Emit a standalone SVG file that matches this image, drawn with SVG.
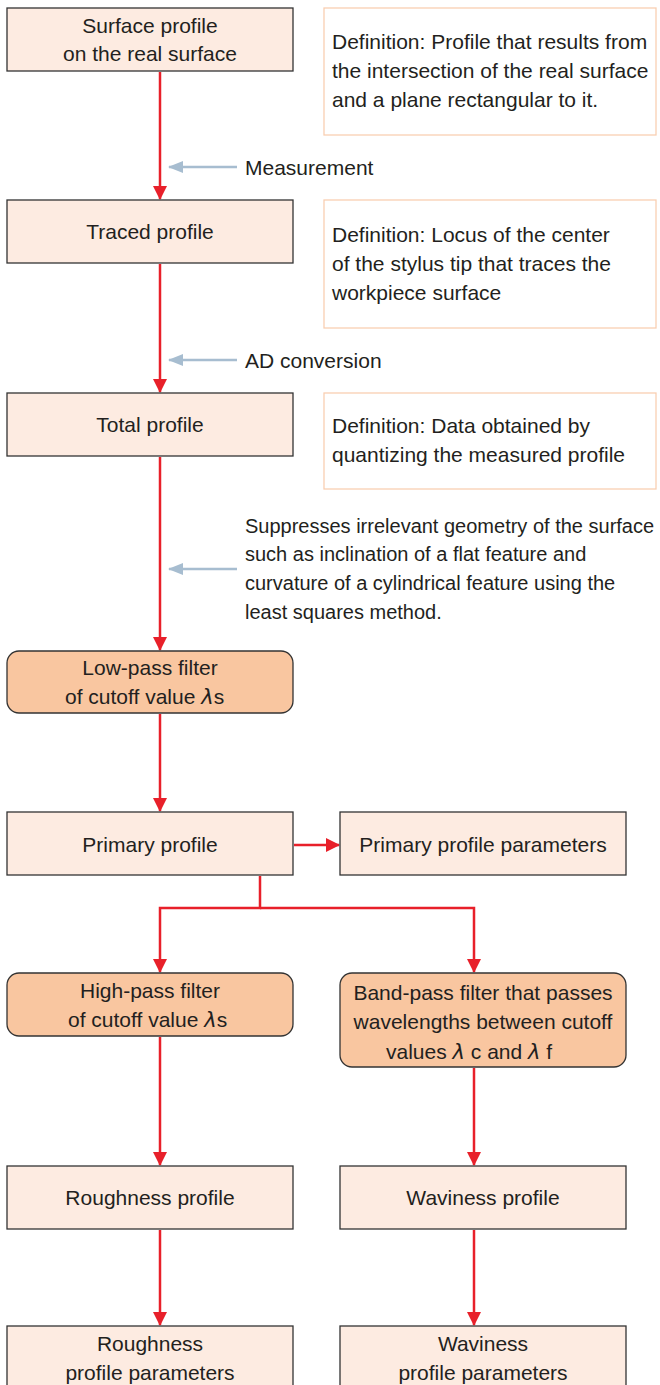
<svg xmlns="http://www.w3.org/2000/svg" width="660" height="1385" viewBox="0 0 660 1385">
<defs>
<style>
.box{fill:#fdebe1;stroke:#333;stroke-width:1.3}
.flt{fill:#f9c6a0;stroke:#333;stroke-width:1.3}
.def{fill:#fff;stroke:#f9cfb2;stroke-width:1.3}
text{font-family:"Liberation Sans",Arial,sans-serif;font-size:21px;fill:#231f20}
.c{text-anchor:middle}
.s{font-size:20px}
.red{fill:none;stroke:#e8202a;stroke-width:2.5}
.blue{fill:none;stroke:#a7bdd0;stroke-width:2.5}
.lam{font-family:"DejaVu Sans",sans-serif;font-style:italic}
</style>
<marker id="ar" markerWidth="14" markerHeight="16" refX="13" refY="8" orient="auto" markerUnits="userSpaceOnUse"><path d="M0,1 L14,8 L0,15 z" fill="#e8202a"/></marker>
<marker id="ab" markerWidth="16" markerHeight="14" refX="14" refY="7" orient="auto" markerUnits="userSpaceOnUse"><path d="M0,1 L15,7 L0,13 z" fill="#a7bdd0"/></marker>
</defs>
<g id="connectors">
<line class="red" x1="160" y1="72" x2="160" y2="199" marker-end="url(#ar)"/>
<line class="red" x1="160" y1="264" x2="160" y2="392" marker-end="url(#ar)"/>
<line class="red" x1="160" y1="457" x2="160" y2="650" marker-end="url(#ar)"/>
<line class="red" x1="160" y1="714" x2="160" y2="811" marker-end="url(#ar)"/>
<line class="red" x1="294" y1="845" x2="339" y2="845" marker-end="url(#ar)"/>
<polyline class="red" points="260,876 260,908 160,908 160,972" marker-end="url(#ar)"/>
<polyline class="red" points="260,908 474,908 474,972" marker-end="url(#ar)"/>
<line class="red" x1="160" y1="1037" x2="160" y2="1165" marker-end="url(#ar)"/>
<line class="red" x1="474" y1="1068" x2="474" y2="1165" marker-end="url(#ar)"/>
<line class="red" x1="160" y1="1230" x2="160" y2="1325" marker-end="url(#ar)"/>
<line class="red" x1="474" y1="1230" x2="474" y2="1325" marker-end="url(#ar)"/>
<line class="blue" x1="237" y1="167" x2="169" y2="167" marker-end="url(#ab)"/>
<line class="blue" x1="237" y1="360" x2="169" y2="360" marker-end="url(#ab)"/>
<line class="blue" x1="237" y1="569" x2="169" y2="569" marker-end="url(#ab)"/>
</g>
<g id="surface-profile"><rect class="box" x="7" y="8" width="286" height="63"/><text class="c" x="150" y="33">Surface profile</text><text class="c" x="150" y="61">on the real surface</text></g>
<g id="def1"><rect class="def" x="324" y="8" width="332" height="127"/><text x="332" y="49">Definition: Profile that results from</text><text x="332" y="78">the intersection of the real surface</text><text x="332" y="107">and a plane rectangular to it.</text></g>
<g id="measurement"><text x="245" y="175">Measurement</text></g>
<g id="traced-profile"><rect class="box" x="7" y="200" width="286" height="63"/><text class="c" x="150" y="239">Traced profile</text></g>
<g id="def2"><rect class="def" x="324" y="200" width="332" height="128"/><text x="332" y="242">Definition: Locus of the center</text><text x="332" y="271">of the stylus tip that traces the</text><text x="332" y="300">workpiece surface</text></g>
<g id="ad"><text x="245" y="368">AD conversion</text></g>
<g id="total-profile"><rect class="box" x="7" y="393" width="286" height="63"/><text class="c" x="150" y="432">Total profile</text></g>
<g id="def3"><rect class="def" x="324" y="393" width="332" height="96"/><text x="332" y="433">Definition: Data obtained by</text><text x="332" y="462">quantizing the measured profile</text></g>
<g id="suppress"><text class="s" x="245" y="533">Suppresses irrelevant geometry of the surface</text><text class="s" x="245" y="561">such as inclination of a flat feature and</text><text class="s" x="245" y="590">curvature of a cylindrical feature using the</text><text class="s" x="245" y="619">least squares method.</text></g>
<g id="low-pass"><rect class="flt" x="7" y="651" width="286" height="62" rx="12"/><text class="c" x="150" y="675">Low-pass filter</text><text x="65" y="704">of cutoff value  <tspan class="lam">λ</tspan>s</text></g>
<g id="primary-profile"><rect class="box" x="7" y="812" width="286" height="63"/><text class="c" x="150" y="852">Primary profile</text></g>
<g id="primary-params"><rect class="box" x="340" y="812" width="286" height="63"/><text class="c" x="483" y="852">Primary profile parameters</text></g>
<g id="high-pass"><rect class="flt" x="7" y="973" width="286" height="63" rx="12"/><text class="c" x="150" y="998">High-pass filter</text><text x="68" y="1027">of cutoff value <tspan class="lam">λ</tspan>s</text></g>
<g id="band-pass"><rect class="flt" x="340" y="973" width="286" height="94" rx="12"/><text class="c" x="483" y="1000">Band-pass filter that passes</text><text class="c" x="483" y="1029">wavelengths between cutoff</text><text x="386" y="1059">values <tspan class="lam">λ</tspan> c and <tspan class="lam">λ</tspan> f</text></g>
<g id="roughness-profile"><rect class="box" x="7" y="1166" width="286" height="63"/><text class="c" x="150" y="1205">Roughness profile</text></g>
<g id="waviness-profile"><rect class="box" x="340" y="1166" width="286" height="63"/><text class="c" x="483" y="1205">Waviness profile</text></g>
<g id="roughness-params"><rect class="box" x="7" y="1326" width="286" height="70"/><text class="c" x="150" y="1351">Roughness</text><text class="c" x="150" y="1380">profile parameters</text></g>
<g id="waviness-params"><rect class="box" x="340" y="1326" width="286" height="70"/><text class="c" x="483" y="1351">Waviness</text><text class="c" x="483" y="1380">profile parameters</text></g>
</svg>
